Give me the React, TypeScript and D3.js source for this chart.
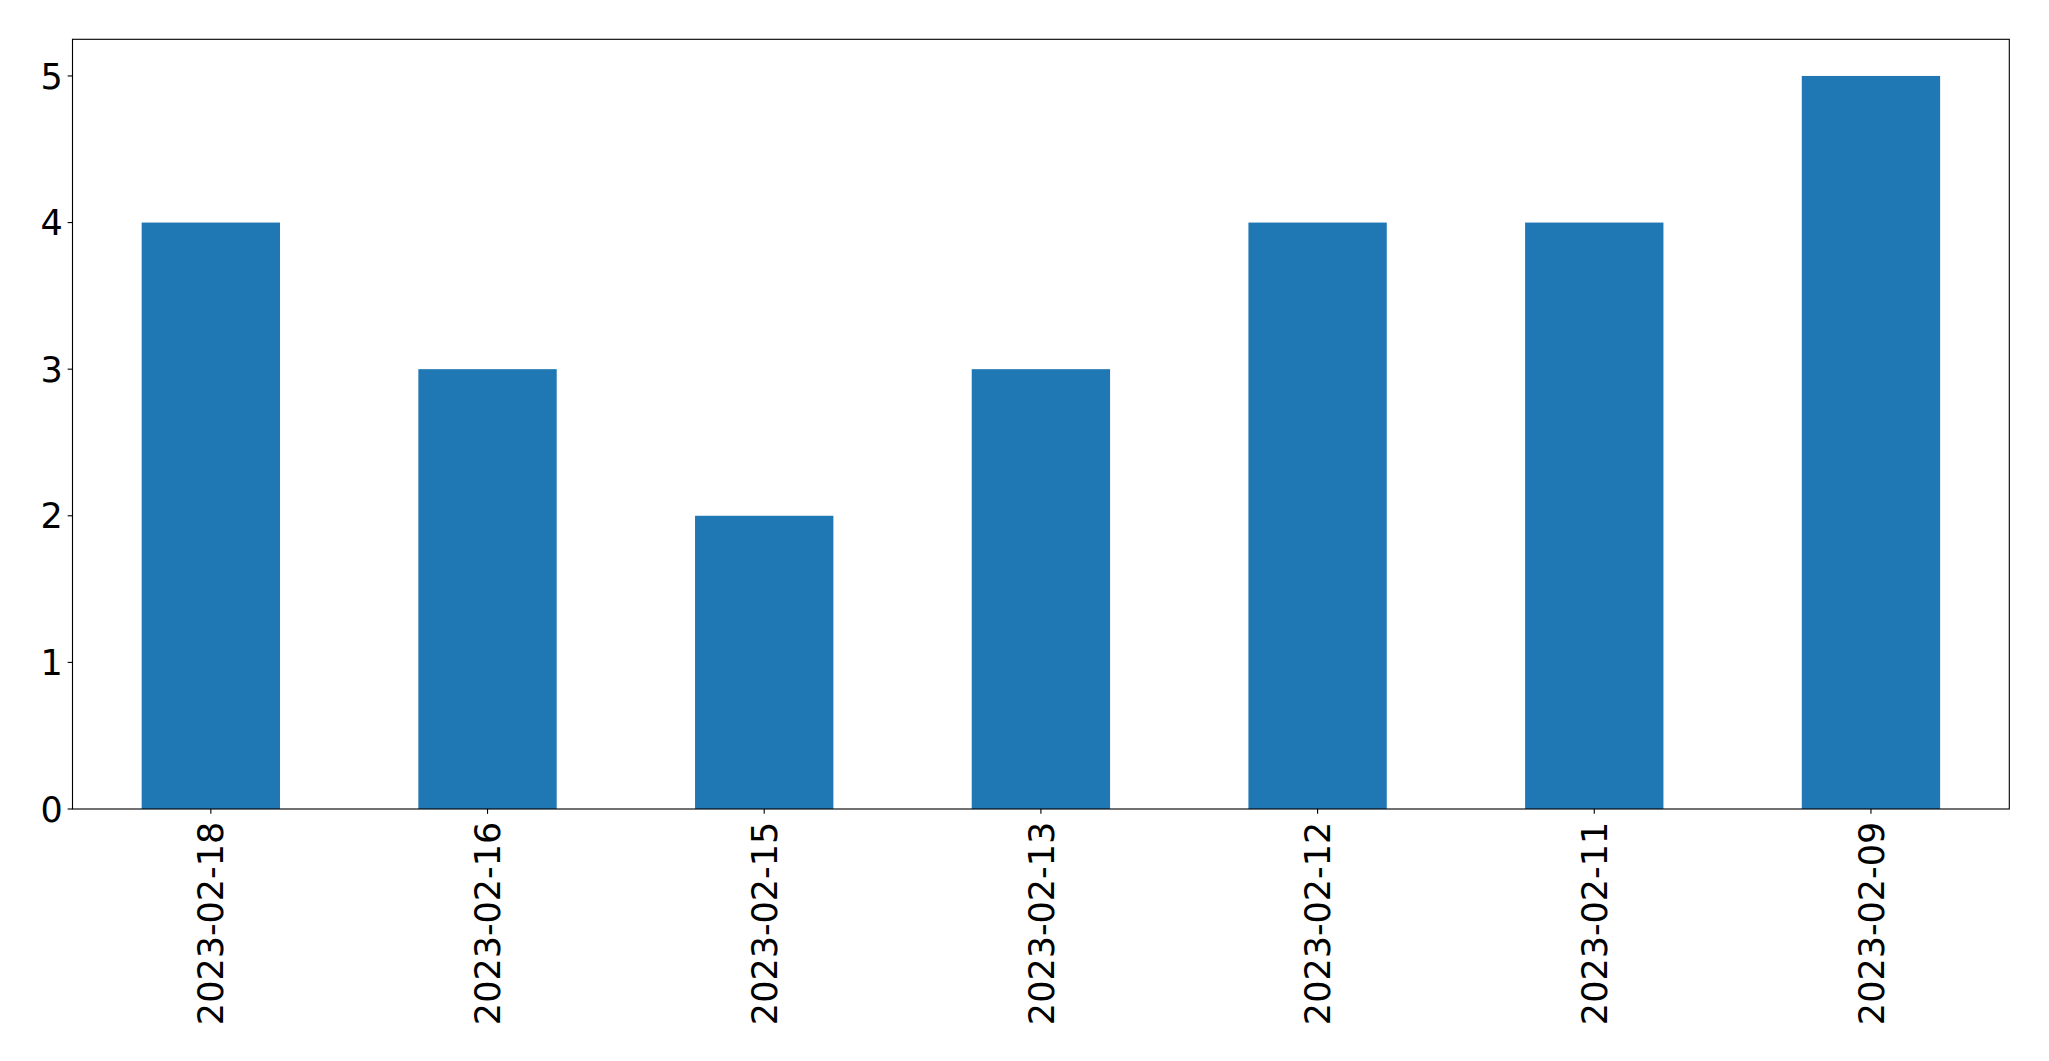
import React from "react";
import * as d3 from "d3";

const categories = ["2023-02-18", "2023-02-16", "2023-02-15", "2023-02-13", "2023-02-12", "2023-02-11", "2023-02-09"];
const values = [4, 3, 2, 3, 4, 4, 5];
const yTicks = [0, 1, 2, 3, 4, 5];

const W = 2049;
const H = 1061;
const left = 72.5;
const right = 2009.3;
const top = 39.3;
const bottom = 809;
const FONT = "'DejaVu Sans', sans-serif";
const FS = 35;
const TICK = 4.86;
const PAD = 4.86;

export default function App() {
  const x = d3.scaleLinear().domain([-0.5, categories.length - 0.5]).range([left, right]);
  const y = d3.scaleLinear().domain([0, 5.25]).range([bottom, top]);
  const bw = x(0.25) - x(-0.25);
  return (
    <svg width={W} height={H} style={{ position: "absolute", left: 0, top: 0, display: "block", background: "#fff" }}>
      <rect x={0} y={0} width={W} height={H} fill="#fff" />
      {values.map((v, i) => (
        <rect key={i} x={x(i) - bw / 2} y={y(v)} width={bw} height={y(0) - y(v)} fill="#1f77b4" />
      ))}
      <rect x={left} y={top} width={right - left} height={bottom - top} fill="none" stroke="#000" strokeWidth={1.11} />
      {yTicks.map((t) => (
        <g key={t}>
          <line x1={left - TICK} x2={left} y1={y(t)} y2={y(t)} stroke="#000" strokeWidth={1.11} />
          <text x={left - TICK - PAD} y={y(t)} dy="0.36em" textAnchor="end" fontFamily={FONT} fontSize={FS} fill="#000">
            {t}
          </text>
        </g>
      ))}
      {categories.map((c, i) => (
        <g key={c}>
          <line x1={x(i)} x2={x(i)} y1={bottom} y2={bottom + TICK} stroke="#000" strokeWidth={1.11} />
          <text
            transform={`translate(${x(i)},${bottom + TICK + PAD + 3}) rotate(-90)`}
            dy="0.36em"
            textAnchor="end"
            fontFamily={FONT}
            fontSize={FS}
            fill="#000"
          >
            {c}
          </text>
        </g>
      ))}
    </svg>
  );
}
